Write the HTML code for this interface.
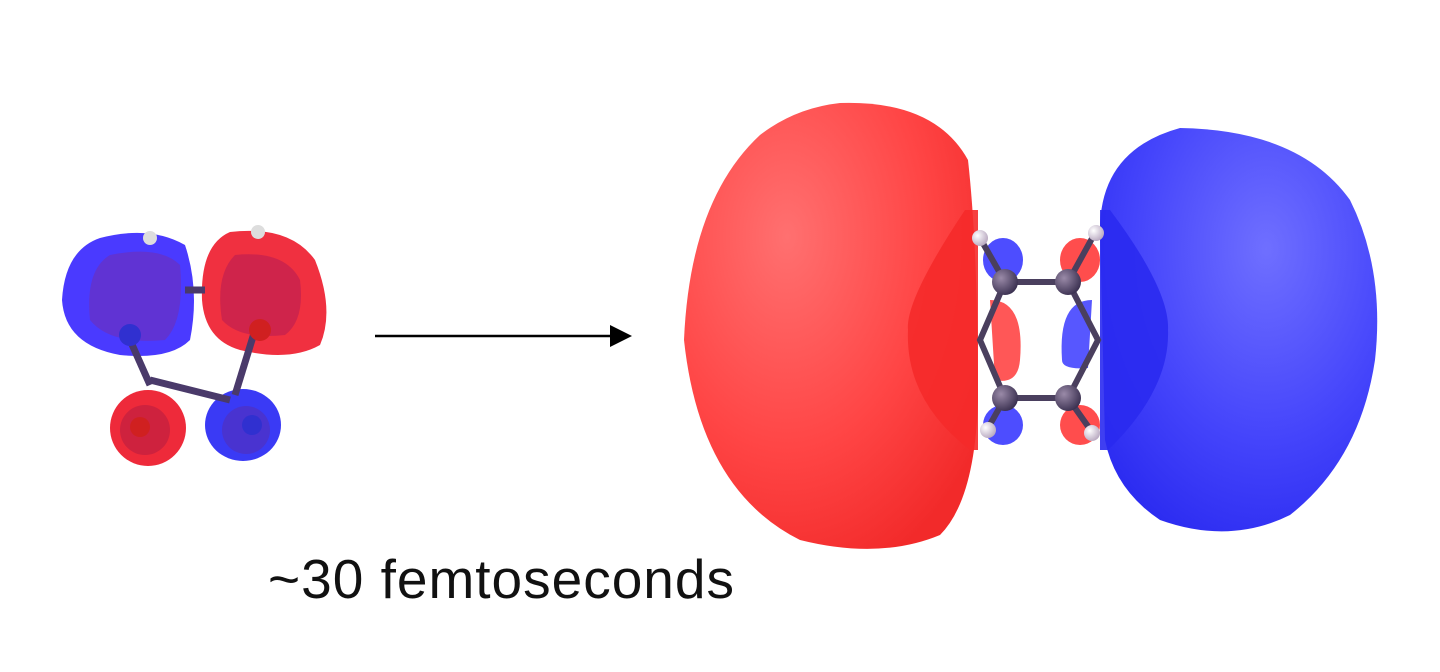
<!DOCTYPE html>
<html><head><style>
html,body{margin:0;padding:0;background:#fff;width:1440px;height:672px;overflow:hidden}
svg{position:absolute;left:0;top:0}
.t{position:absolute;left:268px;top:547px;font-family:"Liberation Sans",sans-serif;font-size:55px;color:#111;letter-spacing:1px;white-space:nowrap}
</style></head><body>
<svg width="1440" height="672" viewBox="0 0 1440 672">
<defs>
<radialGradient id="rg" cx="0.35" cy="0.3" r="0.8"><stop offset="0" stop-color="#ff7070"/><stop offset="0.6" stop-color="#ff4545"/><stop offset="1" stop-color="#f22a2a"/></radialGradient>
<radialGradient id="bg" cx="0.6" cy="0.3" r="0.8"><stop offset="0" stop-color="#6f6fff"/><stop offset="0.6" stop-color="#4444fb"/><stop offset="1" stop-color="#2a2af0"/></radialGradient>
<radialGradient id="at" cx="0.35" cy="0.35" r="0.7"><stop offset="0" stop-color="#9a8aa8"/><stop offset="1" stop-color="#3a3050"/></radialGradient>
<radialGradient id="h" cx="0.35" cy="0.35" r="0.7"><stop offset="0" stop-color="#fff"/><stop offset="1" stop-color="#b8a8c0"/></radialGradient>
</defs>
<path d="M100 238 Q150 225 185 245 Q200 290 190 340 Q170 360 120 355 Q65 345 62 300 Q65 250 100 238Z" fill="#4a3aff"/>
<path d="M110 255 Q160 245 180 265 Q185 320 165 340 Q110 345 90 320 Q85 270 110 255Z" fill="#6a30c0" opacity="0.7"/>
<path d="M230 232 Q290 225 315 260 Q335 310 320 345 Q290 362 240 350 Q205 340 202 300 Q200 245 230 232Z" fill="#f03040"/>
<path d="M235 255 Q285 250 300 280 Q305 320 285 335 Q240 340 222 320 Q215 275 235 255Z" fill="#c02050" opacity="0.7"/>
<ellipse cx="148" cy="428" rx="38" ry="38" fill="#ee2a3a"/>
<ellipse cx="145" cy="430" rx="25" ry="25" fill="#c02040" opacity="0.7"/>
<ellipse cx="243" cy="425" rx="38" ry="36" fill="#3a3af5"/>
<ellipse cx="246" cy="430" rx="24" ry="24" fill="#5030c0" opacity="0.7"/>
<g stroke="#4a3a6a" stroke-width="7">
<line x1="185" y1="290" x2="205" y2="290"/><line x1="150" y1="380" x2="230" y2="400"/>
<line x1="130" y1="340" x2="150" y2="385"/><line x1="255" y1="330" x2="235" y2="395"/>
</g>
<circle cx="130" cy="335" r="11" fill="#3030d0"/><circle cx="260" cy="330" r="11" fill="#d02020"/>
<circle cx="140" cy="427" r="10" fill="#d02020"/><circle cx="252" cy="425" r="10" fill="#3030d0"/>
<circle cx="150" cy="238" r="7" fill="#ddd"/><circle cx="258" cy="232" r="7" fill="#ddd"/>
<line x1="375" y1="336" x2="612" y2="336" stroke="#000" stroke-width="2.5"/>
<polygon points="632,336 610,325 610,347" fill="#000"/>
<path d="M840 103 Q935 100 968 160 Q978 250 978 400 Q975 500 940 535 Q880 560 800 540 Q700 490 684 340 Q690 200 760 135 Q795 108 840 103Z" fill="url(#rg)"/>
<path d="M965 210 Q905 300 908 330 Q905 400 970 450 L978 450 L978 210Z" fill="#f52a2a" opacity="0.9"/>
<path d="M1180 128 Q1300 130 1350 200 Q1385 270 1375 360 Q1360 460 1290 515 Q1230 545 1160 520 Q1115 490 1105 440 L1100 230 Q1100 150 1180 128Z" fill="url(#bg)"/>
<path d="M1110 210 Q1170 290 1168 330 Q1170 390 1108 450 L1100 450 L1100 210Z" fill="#2a2af0" opacity="0.9"/>
<ellipse cx="1003" cy="260" rx="20" ry="22" fill="#3a3aff" opacity="0.9"/>
<ellipse cx="1003" cy="425" rx="20" ry="20" fill="#3a3aff" opacity="0.9"/>
<ellipse cx="1080" cy="260" rx="20" ry="22" fill="#ff3a3a" opacity="0.9"/>
<ellipse cx="1080" cy="425" rx="20" ry="20" fill="#ff3a3a" opacity="0.9"/>
<path d="M990 300 Q1025 300 1020 360 Q1018 385 995 380 Z" fill="#ff3a3a" opacity="0.85"/>
<path d="M1092 300 Q1058 300 1062 360 Q1062 370 1088 368 Z" fill="#3a3aff" opacity="0.85"/>
<g stroke="#4a3f5e" stroke-width="6" fill="none">
<line x1="1005" y1="282" x2="1068" y2="282"/><line x1="1005" y1="398" x2="1068" y2="398"/>
<polyline points="1005,282 980,340 1005,398"/><polyline points="1068,282 1098,340 1068,398"/>
<line x1="1005" y1="282" x2="980" y2="238"/><line x1="1068" y1="282" x2="1095" y2="233"/>
<line x1="1005" y1="398" x2="988" y2="428"/><line x1="1068" y1="398" x2="1092" y2="432"/>
</g>
<circle cx="1005" cy="282" r="13" fill="url(#at)"/><circle cx="1068" cy="282" r="13" fill="url(#at)"/>
<circle cx="1005" cy="398" r="13" fill="url(#at)"/><circle cx="1068" cy="398" r="13" fill="url(#at)"/>
<circle cx="980" cy="238" r="8" fill="url(#h)"/><circle cx="1096" cy="233" r="8" fill="url(#h)"/>
<circle cx="988" cy="430" r="8" fill="url(#h)"/><circle cx="1092" cy="433" r="8" fill="url(#h)"/>
</svg>
<div class="t">~30 femtoseconds</div>
</body></html>
